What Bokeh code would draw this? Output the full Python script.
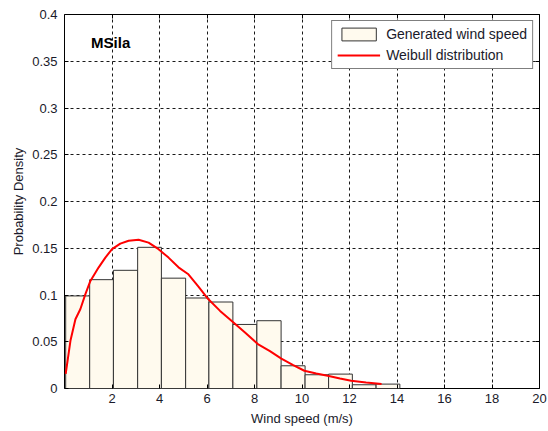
from bokeh.plotting import figure
from bokeh.models import LinearAxis, FixedTicker, Range1d, Legend, LegendItem, ColumnDataSource
from bokeh.core.properties import value
from bokeh.embed import file_html
from bokeh.resources import INLINE

# ---- data ----
bin_edges = [0.05, 1.06, 2.06, 3.08, 4.08, 5.1, 6.08, 7.09, 8.1, 9.12, 10.13, 11.12, 12.12, 13.12, 14.12]
bin_density = [0.099, 0.1164, 0.1264, 0.151, 0.118, 0.0968, 0.0925, 0.0685, 0.0725,
               0.0243, 0.0147, 0.0154, 0.0040, 0.0047]

weibull_x = [0.05, 0.25, 0.46, 0.67, 0.88, 1.09, 1.44, 1.72, 2.0, 2.35, 2.7, 3.12, 3.54, 3.96,
             4.38, 4.8, 5.2, 5.64, 6.05, 6.55, 7.03, 7.6, 8.14, 8.65, 9.13, 9.63, 10.1, 10.6,
             11.08, 11.6, 12.07, 12.7, 13.35]
weibull_y = [0.0157, 0.051, 0.074, 0.085, 0.101, 0.115, 0.1296, 0.140, 0.149, 0.155, 0.158,
             0.159, 0.156, 0.149, 0.140, 0.1296, 0.1225, 0.109, 0.0957, 0.083, 0.0725, 0.060,
             0.0475, 0.040, 0.032, 0.025, 0.019, 0.016, 0.0136, 0.0107, 0.0082, 0.0064, 0.0047]

x_ticks = [2, 4, 6, 8, 10, 12, 14, 16, 18, 20]
y_ticks = [0, 0.05, 0.1, 0.15, 0.2, 0.25, 0.3, 0.35, 0.4]
y_tick_labels = ["0", "0.05", "0.1", "0.15", "0.2", "0.25", "0.3", "0.35", "0.4"]

title_text = "MSila"
x_label = "Wind speed (m/s)"
y_label = "Probability Density"
legend_labels = ["Generated wind speed", "Weibull distribution"]

FONT = "Liberation Sans"
TXT = "#1a1a2a"

p = figure(width=547, height=429, output_backend="svg", toolbar_location=None,
           x_range=Range1d(0, 20), y_range=Range1d(0, 0.4),
           min_border_left=64, min_border_right=8, min_border_top=14, min_border_bottom=41,
           background_fill_color="white", border_fill_color="white")

p.outline_line_color = "black"
p.outline_line_width = 1

src = ColumnDataSource(dict(left=bin_edges[:-1], right=bin_edges[1:], top=bin_density,
                            bottom=[0] * len(bin_density)))
bars = p.quad(left="left", right="right", top="top", bottom="bottom", source=src,
              fill_color="#fffaee", line_color="#333333", line_width=1)
curve = p.line(weibull_x, weibull_y, line_color="#ff0000", line_width=2)

# axes styling
for ax in (p.xaxis[0], p.yaxis[0]):
    ax.axis_line_color = None
    ax.major_tick_in = 4
    ax.major_tick_out = 0
    ax.minor_tick_line_color = None
    ax.major_tick_line_color = "black"
    ax.major_label_text_font = FONT
    ax.major_label_text_font_size = "13px"
    ax.major_label_text_color = TXT
    ax.axis_label_text_font = FONT
    ax.axis_label_text_font_size = "13px"
    ax.axis_label_text_font_style = "normal"
    ax.axis_label_text_color = TXT

p.xaxis[0].ticker = FixedTicker(ticks=x_ticks)
p.yaxis[0].ticker = FixedTicker(ticks=y_ticks)
p.yaxis[0].major_label_overrides = {t: l for t, l in zip(y_ticks, y_tick_labels)}
p.xaxis[0].axis_label = x_label
p.yaxis[0].axis_label = y_label
p.xaxis[0].major_label_standoff = 5
p.yaxis[0].major_label_standoff = 7
p.xaxis[0].axis_label_standoff = 5
p.yaxis[0].axis_label_standoff = 3

# top / right inward ticks (drawn as minor ticks so no labels are produced)
top_ax = LinearAxis(ticker=FixedTicker(ticks=[], minor_ticks=x_ticks), axis_line_color=None,
                    major_tick_line_color=None, minor_tick_in=4, minor_tick_out=0,
                    minor_tick_line_color="black")
right_ax = LinearAxis(ticker=FixedTicker(ticks=[], minor_ticks=y_ticks), axis_line_color=None,
                      major_tick_line_color=None, minor_tick_in=4, minor_tick_out=0,
                      minor_tick_line_color="black")
p.add_layout(top_ax, "above")
p.add_layout(right_ax, "right")

# grid
p.xgrid.ticker = FixedTicker(ticks=x_ticks)
p.ygrid.ticker = FixedTicker(ticks=y_ticks)
for g in (p.xgrid[0], p.ygrid[0]):
    g.grid_line_color = "black"
    g.grid_line_dash = "3 3"
    g.grid_line_width = 1
    g.grid_line_alpha = 0.9
p.xgrid.level = "underlay"
p.ygrid.level = "underlay"

# title text inside plot
p.text(x=[1.12], y=[0.3704], text=[title_text], text_font=value(FONT), text_font_size="15px",
       text_font_style="bold", text_color="black", text_baseline="middle", text_align="left")

legend = Legend(items=[LegendItem(label=legend_labels[0], renderers=[bars]),
                       LegendItem(label=legend_labels[1], renderers=[curve])],
                location="top_right")
legend.border_line_color = "black"
legend.border_line_width = 1
legend.background_fill_color = "white"
legend.background_fill_alpha = 1
legend.label_text_font = FONT
legend.label_text_font_size = "14px"
legend.label_text_color = TXT
legend.glyph_width = 43
legend.glyph_height = 16
legend.label_height = 16
legend.spacing = 5
legend.padding = 5
legend.margin = 6
legend.label_standoff = 6
p.add_layout(legend, "center")

open("out.html", "w").write(file_html(p, INLINE))
